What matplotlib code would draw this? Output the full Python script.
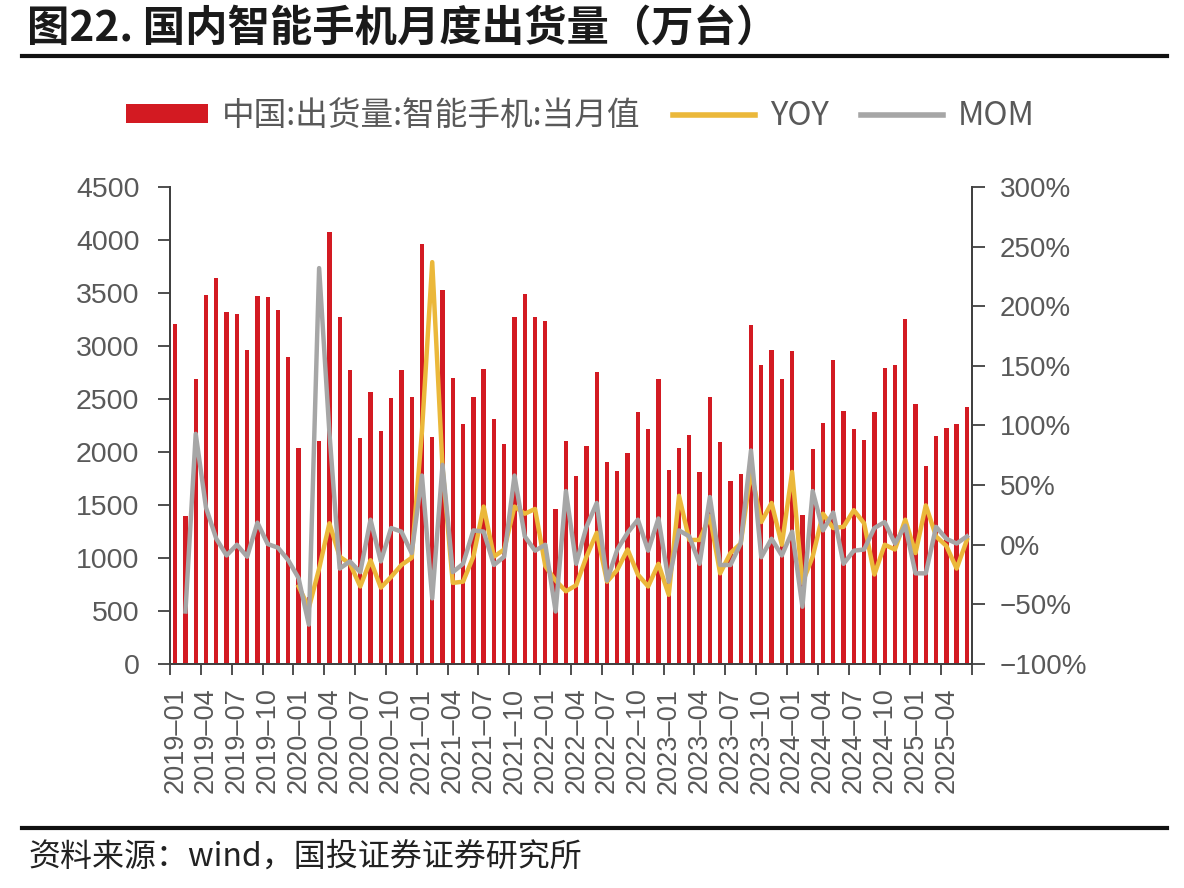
# -*- coding: utf-8 -*-
import numpy as np
import pandas as pd
import matplotlib
matplotlib.use("Agg")
import matplotlib.pyplot as plt
from matplotlib.lines import Line2D

plt.rcParams['font.family'] = ['Liberation Sans', 'Noto Sans CJK SC', 'DejaVu Sans']

# 月份 2019-01 ~ 2025-06
months = [p.strftime('%Y–%m') for p in pd.period_range('2019-01', '2025-06', freq='M')]

# 中国:出货量:智能手机:当月值（万台）
shipments = [
    3210, 1400, 2690, 3480, 3640, 3320, 3300, 2960, 3470, 3460, 3340, 2900,
    2040, 630, 2100, 4080, 3270, 2770, 2130, 2570, 2200, 2510, 2770, 2520,
    3960, 2140, 3530, 2700, 2260, 2520, 2780, 2310, 2080, 3270, 3490, 3270,
    3240, 1460, 2100, 1770, 2060, 2750, 1910, 1820, 1990, 2380, 2220, 2690,
    1830, 2040, 2160, 1810, 2520, 2090, 1730, 1790, 3200, 2820, 2960, 2690,
    2950, 1410, 2030, 2270, 2870, 2390, 2220, 2110, 2380, 2790, 2820, 3250,
    2450, 1870, 2150, 2230, 2260, 2420,
]

# YOY (%)，2019年无数据
yoy = [np.nan] * 12 + [
    -35, -53, -20, 18, -10, -16, -35, -13, -36, -27, -17, -11,
    95, 237, 65, -32, -31, -10, 32, -10, -4, 32, 26, 30,
    -18, -30, -39, -34, -10, 10, -31, -21, -4, -25, -35, -16,
    -42, 41, 4, 4, 24, -24, -7, 1, 62, 19, 35, 0,
    61, -32, -10, 26, 14, 15, 29, 18, -25, 0, -4, 21,
    -7, 33, 7, -1, -20, 4,
]

# MOM (%)
mom = [
    np.nan, -56, 93, 31, 5, -9, 0, -10, 18.5, 0.6, -2.5, -13,
    -28, -67, 232, 94, -20, -14, -23, 21, -14, 14, 11, -7,
    58, -45, 67, -23, -16, 12, 11, -17, -10, 58, 7, -5,
    0, -56, 45, -16, 15, 35, -30, -4, 10, 21, -5, 22,
    -31, 12, 7, -16, 40, -17, -17, 1, 79, -10.5, 5, -9,
    11, -52, 45, 12, 27, -16, -5, -4, 14, 19, 1, 16,
    -24, -24, 15, 5, 1, 7,
]

x = np.arange(len(months))
red = '#D31A22'
yellow = '#EBB83A'
gray = '#A6A6A6'
tick_color = '#595959'
spine_color = '#404040'

fig = plt.figure(figsize=(11.84, 8.88), dpi=100, facecolor='w')
ax = fig.add_axes([0.1436, 0.2523, 0.821 - 0.1436, 0.7894 - 0.2523])
ax2 = ax.twinx()

bars = ax.bar(x, shipments, width=0.42, color=red, zorder=2)
l1, = ax2.plot(x, yoy, color=yellow, lw=3.2, zorder=3, solid_joinstyle='round')
l2, = ax2.plot(x, mom, color=gray, lw=3.2, zorder=4, solid_joinstyle='round')

# 左轴
ax.set_xlim(-0.5, len(months) - 0.5)
ax.set_ylim(0, 4500)
ax.set_yticks(range(0, 4501, 500))
ax.tick_params(axis='y', direction='out', length=9, width=1.3, color=spine_color,
               labelsize=20.5, labelcolor=tick_color, pad=13)

# x轴：刻度线在分界处，标签在柱子中间
ax.set_xticks(np.arange(-0.5, len(months), 3))
ax.set_xticklabels([])
ax.set_xticks(x[::3], minor=True)
ax.set_xticklabels(months[::3], minor=True, rotation=90)
ax.tick_params(axis='x', which='major', direction='out', length=8, width=1.3, color=spine_color)
ax.tick_params(axis='x', which='minor', length=0, labelsize=19.5, labelcolor=tick_color, pad=17)

# 右轴
ax2.set_ylim(-100, 300)
ax2.set_yticks(range(-100, 301, 50))
ax2.set_yticklabels([('−' if v < 0 else '') + f'{abs(v)}%' for v in range(-100, 301, 50)])
ax2.tick_params(axis='y', direction='out', length=9, width=1.3, color=spine_color,
                labelsize=20, labelcolor=tick_color, pad=11)

for a in (ax, ax2):
    a.spines['top'].set_visible(False)
    for s in ('left', 'right', 'bottom'):
        a.spines[s].set_color(spine_color)
        a.spines[s].set_linewidth(1.3)
ax.set_zorder(1)
ax2.set_zorder(2)
ax2.patch.set_visible(False)

# 图例
leg = fig.legend([bars, l1, l2], ['中国:出货量:智能手机:当月值', 'YOY', 'MOM'],
                 loc='center', bbox_to_anchor=(0.49, 0.869), ncol=3, frameon=False,
                 fontsize=23.5, handlelength=2.5, handleheight=0.5, handletextpad=0.45,
                 columnspacing=1.0)
for t in leg.get_texts():
    t.set_color(tick_color)
    t.set_family(['Noto Sans CJK SC', 'DejaVu Sans'])
for h in leg.legend_handles[1:]:
    h.set_linewidth(4)

# 标题、分隔线、资料来源
fig.text(0.023, 0.967, '图22. 国内智能手机月度出货量（万台）', fontsize=30.5, fontweight='bold',
         color='#1a1a1a', va='center', ha='left', family=['Noto Sans CJK SC', 'DejaVu Sans'])
fig.add_artist(Line2D([0.019, 0.986], [0.937, 0.937], lw=3, color='#111111',
                      transform=fig.transFigure))
fig.add_artist(Line2D([0.019, 0.986], [0.0676, 0.0676], lw=3, color='#111111',
                      transform=fig.transFigure))
fig.text(0.024, 0.035, '资料来源：wind，国投证券证券研究所', fontsize=23, color='#222222',
         va='center', ha='left', family=['Noto Sans CJK SC', 'DejaVu Sans'])

fig.savefig('out.png', dpi=100)
